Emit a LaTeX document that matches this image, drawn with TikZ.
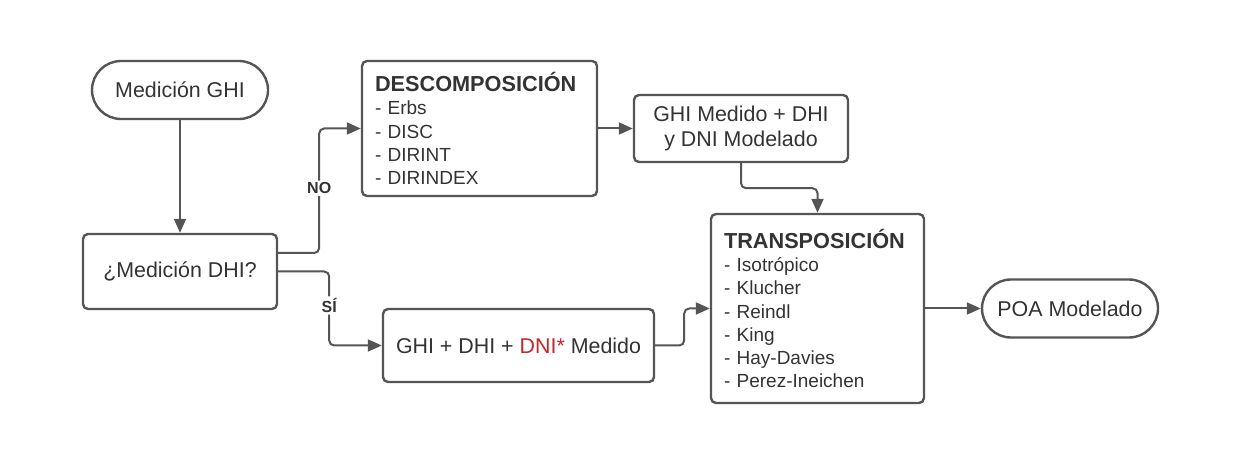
\documentclass[tikz,border=0pt]{standalone}
\usepackage{fontspec}
\setmainfont{Liberation Sans}
\usetikzlibrary{arrows.meta}
\definecolor{linegray}{HTML}{555555}
\definecolor{textgray}{HTML}{333333}
\definecolor{dnired}{HTML}{C8262F}

\begin{document}
\begin{tikzpicture}[x=1pt,y=-1pt,
  every node/.style={draw=linegray,line width=2.4pt,text=textgray,font=\fontsize{21.4}{24.5}\selectfont,align=center,inner sep=0pt},
  pill/.style={minimum width=176pt,minimum height=58pt,rounded corners=29pt},
  box/.style={rounded corners=5pt},
  listbox/.style={box,align=left,inner xsep=13pt,font=\fontsize{19}{23.3}\selectfont},
  lbl/.style={draw=none,fill=white,font=\fontsize{16}{18}\selectfont\bfseries,inner sep=2pt},
  flow/.style={linegray,line width=2pt,rounded corners=5pt,-{Triangle[length=14pt,width=12pt]}}]

\useasboundingbox[fill=white] (0,0) rectangle (1240,470);

\node[pill] (ghi) at (180,90) {Medición GHI};
\node[box,minimum width=194pt,minimum height=75pt] (dhi) at (180,271.5) {¿Medición DHI?};
\node[listbox,text width=209pt,minimum height=135pt] (desc) at (479.5,128.5)
  {\textbf{\fontsize{21.7}{23.3}\selectfont DESCOMPOSICIÓN}\\- Erbs\\- DISC\\- DIRINT\\- DIRINDEX};
\node[box,minimum width=214pt,minimum height=67pt] (med) at (741,128.5) {GHI Medido + DHI\\y DNI Modelado};
\node[box,minimum width=271pt,minimum height=73pt] (both) at (518.5,345.5)
  {GHI + DHI + {\color{dnired}DNI*} Medido};
\node[listbox,text width=187pt,minimum height=189pt] (trans) at (817.5,308.5)
  {\textbf{\fontsize{21.7}{23.3}\selectfont TRANSPOSICIÓN}\\- Isotrópico\\- Klucher\\- Reindl\\- King\\- Hay-Davies\\- Perez-Ineichen};
\node[pill] (poa) at (1070,308.5) {POA Modelado};

\foreach \a/\b in {ghi/dhi, desc/med, trans/poa}
    \draw[flow] (\a) -- (\b);

\draw[flow] ([yshift=18.5pt]dhi.east) -- ++(41,0) |- node[lbl,pos=0.26] {NO} (desc.west);
\draw[flow] (dhi.east) -- ++(51,0) |- node[lbl,pos=0.23] {SÍ} (both.west);
\draw[flow] (med.south) -- ++(0,25) -| (trans.north);
\draw[flow] (both.east) -- ++(29,0) |- (trans.west);

\end{tikzpicture}
\end{document}
